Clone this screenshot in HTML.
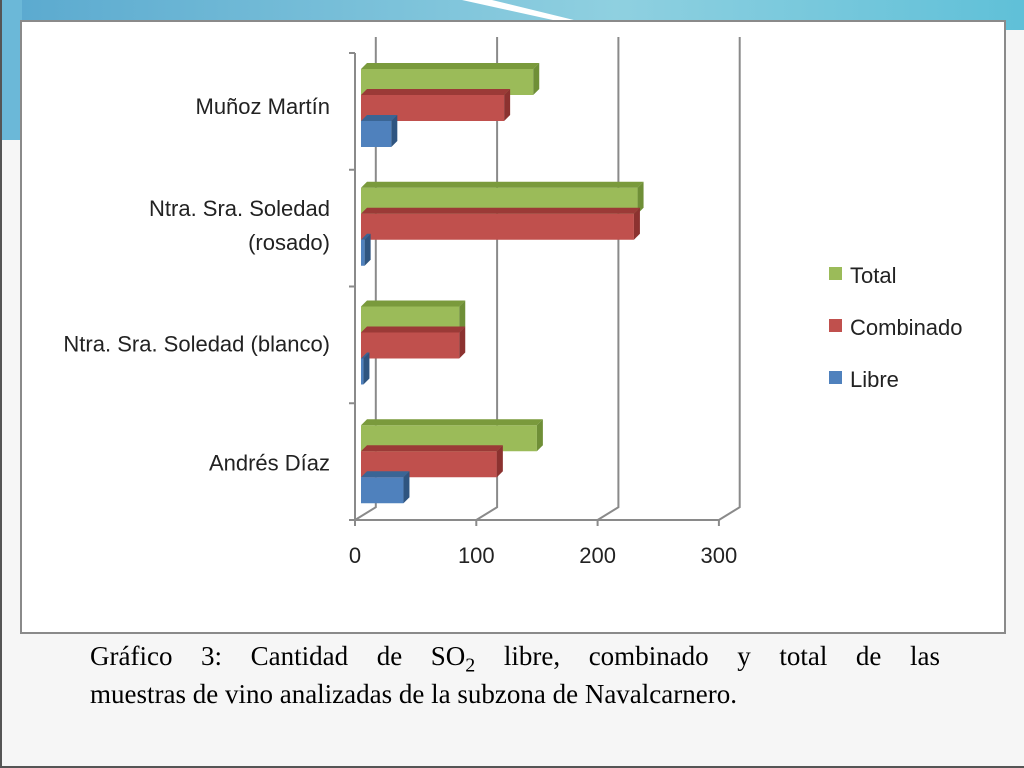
<!DOCTYPE html>
<html><head><meta charset="utf-8"><style>
body{margin:0;width:1024px;height:768px;overflow:hidden;background:#f6f6f6;font-family:"Liberation Sans",sans-serif}
#slide{position:absolute;left:0;top:0;width:1022px;height:766px;border-left:2px solid #555;border-bottom:2px solid #555}
.cap{position:absolute;left:88px;width:850px;font-family:"Liberation Serif",serif;font-size:27px;line-height:32px;color:#000;white-space:nowrap}
#cap1{top:640px;text-align:justify;text-align-last:justify;white-space:normal}
#cap2{top:678px}
</style></head><body>
<div id="slide">
<svg width="1024" height="768" style="position:absolute;left:0;top:0">
<defs><linearGradient id="bg" x1="0" y1="0" x2="1" y2="0"><stop offset="0" stop-color="#5aa9cf"/><stop offset="0.6" stop-color="#8fd0e0"/><stop offset="1" stop-color="#5fc0d8"/></linearGradient></defs>
<rect x="0" y="0" width="1024" height="30" fill="url(#bg)"/>
<rect x="0" y="0" width="20" height="140" fill="#6bb8d8"/>
<path d="M460 0 L560 22 L580 22 L490 0Z" fill="#fff"/>
<rect x="19" y="21" width="984" height="612" fill="#fff" stroke="#8a8a8a" stroke-width="2"/>
<g id="plot"></g>
<g font-size="22" fill="#222">
<rect x="827" y="267" width="13" height="13" fill="#9bbb59"/>
<text x="848" y="283">Total</text>
<rect x="827" y="319" width="13" height="13" fill="#c0504d"/>
<text x="848" y="335">Combinado</text>
<rect x="827" y="371" width="13" height="13" fill="#4f81bd"/>
<text x="848" y="387">Libre</text>
</g>
</svg>
<div id="cap1" class="cap">Gráfico 3: Cantidad de SO<sub style="font-size:20px">2</sub> libre, combinado y total de las</div>
<div id="cap2" class="cap">muestras de vino analizadas de la subzona de Navalcarnero.</div>
</div>
<script>
const categories=["Muñoz Martín","Ntra. Sra. Soledad (rosado)","Ntra. Sra. Soledad (blanco)","Andrés Díaz"];
const totalVals=[142,228,81,145];
const combinadoVals=[118,225,81,112];
const libreVals=[25,3,2,35];
const xTicks=[0,100,200,300];
const NS="http://www.w3.org/2000/svg";
const g=document.getElementById('plot');
const X0=353,XS=1.213,DX=8,DY=8,TOP=45,BOT=520,BAND=(BOT-TOP)/4;
const xs=v=>X0+v*XS;
function mk(t,a,p){const e=document.createElementNS(NS,t);for(const k in a)e.setAttribute(k,a[k]);(p||g).appendChild(e);return e;}
xTicks.forEach((t,i)=>{
 const x=xs(t);
 const l=mk('path',{d:`M${x} ${BOT} L${x+DX*2.6} ${BOT-DY*1.6} L${x+DX*2.6} ${TOP-DY}`,fill:'none',stroke:'#8a8a8a','stroke-width':2});
 
 const tk=mk('line',{x1:x,y1:BOT,x2:x,y2:BOT+6,stroke:'#8a8a8a','stroke-width':2});
 
 const tx=mk('text',{x:x,y:563,'text-anchor':'middle','font-size':22,fill:'#222'});tx.textContent=t;
 
});
const ax=mk('path',{d:`M${X0} ${TOP+8} L${X0} ${BOT} L${xs(300)} ${BOT}`,fill:'none',stroke:'#8a8a8a','stroke-width':2});

for(let i=0;i<=4;i++){const y=TOP+8+i*(BOT-TOP-8)/4;const t=mk('line',{x1:X0-6,y1:y,x2:X0,y2:y,stroke:'#8a8a8a','stroke-width':2});
 }
const series=[[totalVals,'#9bbb59','#7a9a3c','#6f8f37','total'],[combinadoVals,'#c0504d','#9b3a37','#8c3230','combinado'],[libreVals,'#4f81bd','#3a6595','#2f5580','libre']];
const labLines=[["Muñoz Martín"],["Ntra. Sra. Soledad","(rosado)"],["Ntra. Sra. Soledad (blanco)"],["Andrés Díaz"]];
const bh=26,d=6;
categories.forEach((c,i)=>{
 const top=TOP+22+i*BAND+2;
 series.forEach((s,j)=>{
  const v=s[0][i],y=top+j*bh,x0=X0+6,x1=xs(v)+6;
  const grp=mk('g',{});
  
  mk('rect',{x:x0,y:y,width:Math.max(x1-x0,1),height:bh,fill:s[1]},grp);
  mk('path',{d:`M${x0} ${y} L${x0+d} ${y-d} L${x1+d} ${y-d} L${x1} ${y}Z`,fill:s[2]},grp);
  mk('path',{d:`M${x1} ${y} L${x1+d} ${y-d} L${x1+d} ${y+bh-d} L${x1} ${y+bh}Z`,fill:s[3]},grp);
 });
 const lines=labLines[i],cy=top+1.5*bh;
 lines.forEach((ln,k)=>{
  const t=mk('text',{x:328,y:cy+6+(k-(lines.length-1)/2)*34,'text-anchor':'end','font-size':22,fill:'#222'});
  t.textContent=ln;
 });
});
</script>
</body></html>
